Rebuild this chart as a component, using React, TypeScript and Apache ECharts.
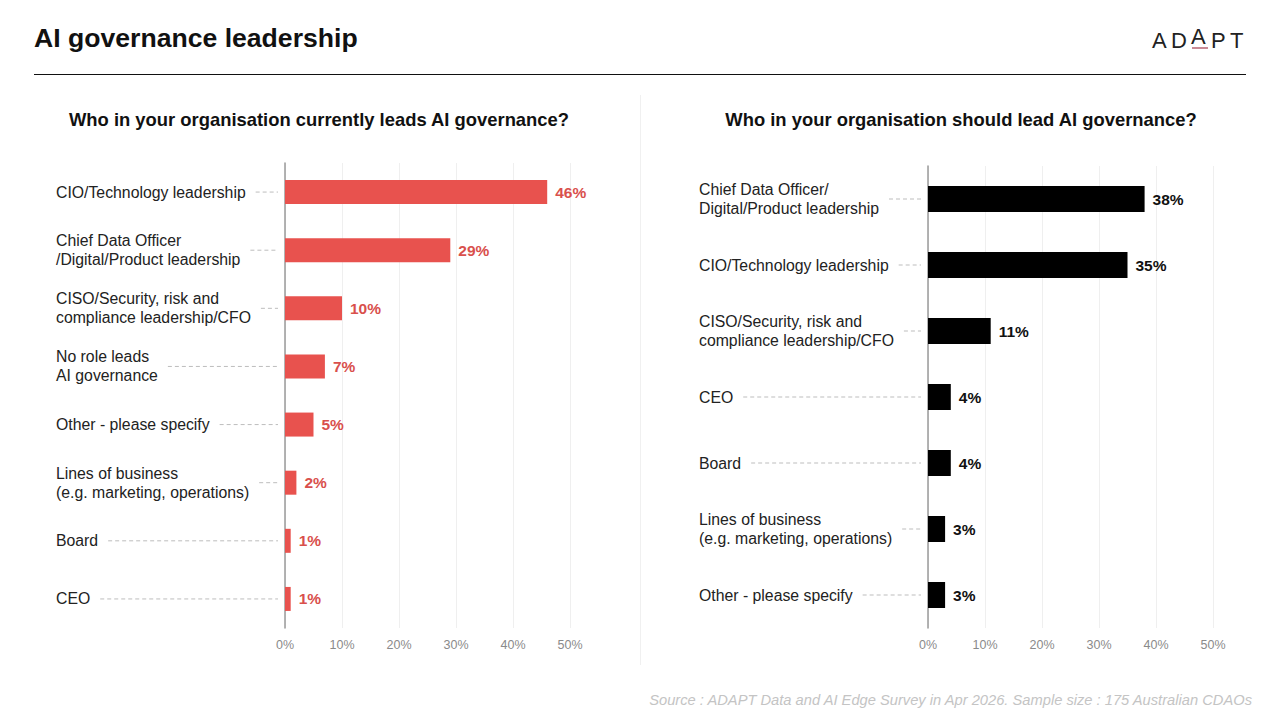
import { useEffect, useRef } from "react";
import * as echarts from "echarts";

const leftCategories = [
  "CIO/Technology leadership",
  "Chief Data Officer\n/Digital/Product leadership",
  "CISO/Security, risk and\ncompliance leadership/CFO",
  "No role leads\nAI governance",
  "Other - please specify",
  "Lines of business\n(e.g. marketing, operations)",
  "Board",
  "CEO",
];
const leftValues = [46, 29, 10, 7, 5, 2, 1, 1];

const rightCategories = [
  "Chief Data Officer/\nDigital/Product leadership",
  "CIO/Technology leadership",
  "CISO/Security, risk and\ncompliance leadership/CFO",
  "CEO",
  "Board",
  "Lines of business\n(e.g. marketing, operations)",
  "Other - please specify",
];
const rightValues = [38, 35, 11, 4, 4, 3, 3];

const xTicks = [0, 10, 20, 30, 40, 50];

const FONT = "'Liberation Sans', Arial, sans-serif";
const LABEL_MARGIN = 229;
const LABEL_SIZE = 15.8;

let measureCtx: CanvasRenderingContext2D | null = null;
function textWidth(text: string) {
  if (!measureCtx) measureCtx = document.createElement("canvas").getContext("2d");
  if (!measureCtx) return text.length * 7;
  measureCtx.font = `${LABEL_SIZE}px ${FONT}`;
  return Math.max(...text.split("\n").map((line) => measureCtx!.measureText(line).width));
}

function leaderSeries(cats: string[], axisIndex: number) {
  return {
    type: "custom",
    xAxisIndex: axisIndex,
    yAxisIndex: axisIndex,
    silent: true,
    z: 1,
    data: cats.map((_, i) => [0, i]),
    encode: { x: 0, y: 1 },
    renderItem: (_params: any, api: any) => {
      const idx = api.value(1);
      const p = api.coord([0, idx]);
      const x1 = p[0] - LABEL_MARGIN + textWidth(cats[idx]) + 10;
      const x2 = p[0] - 7;
      return {
        type: "line",
        shape: { x1, y1: p[1], x2, y2: p[1] },
        style: { stroke: "#bdbdbd", lineWidth: 1, lineDash: [4, 3] },
      };
    },
  };
}

function xAxis(gridIndex: number) {
  return {
    type: "value",
    gridIndex,
    min: xTicks[0],
    max: xTicks[xTicks.length - 1],
    interval: 10,
    axisLine: { show: false },
    axisTick: { show: false },
    splitLine: { lineStyle: { color: "#efefef", width: 1 } },
    axisLabel: { formatter: "{value}%", color: "#8a8a8a", fontSize: 12.5, fontFamily: FONT, margin: 10 },
  };
}

function yAxis(gridIndex: number, cats: string[]) {
  return {
    type: "category",
    gridIndex,
    inverse: true,
    data: cats,
    axisLine: { show: true, lineStyle: { color: "#9a9a9a", width: 1.5 } },
    axisTick: { show: false },
    axisLabel: {
      align: "left",
      margin: LABEL_MARGIN,
      color: "#222",
      fontSize: LABEL_SIZE,
      lineHeight: 19,
      fontFamily: FONT,
    },
  };
}

export default function App() {
  const ref = useRef<HTMLDivElement | null>(null);

  useEffect(() => {
    if (!ref.current) return;
    const chart = echarts.init(ref.current, undefined, { renderer: "svg" });
    const logoX = [1160, 1179, 1199, 1219, 1238];
    const logo = "ADAPT".split("").map((ch, i) => ({
      type: "text",
      left: logoX[i] - 8,
      top: i === 2 ? 25 : 29,
      style: { text: ch, fill: "#222", font: `22px ${FONT}` },
    }));
    chart.setOption({
      animation: false,
      backgroundColor: "#fff",
      grid: [
        { left: 285, width: 285, top: 163, height: 465 },
        { left: 928, width: 285, top: 166, height: 462 },
      ],
      xAxis: [xAxis(0), xAxis(1)],
      yAxis: [yAxis(0, leftCategories), yAxis(1, rightCategories)],
      series: [
        leaderSeries(leftCategories, 0),
        leaderSeries(rightCategories, 1),
        {
          type: "bar",
          xAxisIndex: 0,
          yAxisIndex: 0,
          data: leftValues,
          barWidth: 24,
          itemStyle: { color: "#e8524e" },
          label: {
            show: true,
            position: "right",
            distance: 8,
            formatter: "{c}%",
            color: "#d9504c",
            fontWeight: "bold",
            fontSize: 15.5,
            fontFamily: FONT,
          },
        },
        {
          type: "bar",
          xAxisIndex: 1,
          yAxisIndex: 1,
          data: rightValues,
          barWidth: 26,
          itemStyle: { color: "#000" },
          label: {
            show: true,
            position: "right",
            distance: 8,
            formatter: "{c}%",
            color: "#111",
            fontWeight: "bold",
            fontSize: 15.5,
            fontFamily: FONT,
          },
        },
      ],
      graphic: [
        {
          type: "text",
          left: 34,
          top: 24,
          style: { text: "AI governance leadership", fill: "#111", font: `bold 26.6px ${FONT}` },
        },
        {
          type: "line",
          shape: { x1: 34, y1: 74.5, x2: 1246, y2: 74.5 },
          style: { stroke: "#111", lineWidth: 1 },
        },
        ...logo,
        {
          type: "line",
          shape: { x1: 1192, y1: 48, x2: 1208, y2: 48 },
          style: { stroke: "#c98a95", lineWidth: 2 },
        },
        {
          type: "line",
          shape: { x1: 640.5, y1: 95, x2: 640.5, y2: 665 },
          style: { stroke: "#f0f0f0", lineWidth: 1 },
        },
        {
          type: "text",
          x: 319,
          y: 119,
          style: {
            text: "Who in your organisation currently leads AI governance?",
            fill: "#111",
            font: `bold 18.4px ${FONT}`,
            align: "center",
            verticalAlign: "middle",
          },
        },
        {
          type: "text",
          x: 961,
          y: 119,
          style: {
            text: "Who in your organisation should lead AI governance?",
            fill: "#111",
            font: `bold 18.4px ${FONT}`,
            align: "center",
            verticalAlign: "middle",
          },
        },
        {
          type: "text",
          x: 1252,
          y: 700,
          style: {
            text: "Source : ADAPT Data and AI Edge Survey in Apr 2026. Sample size : 175 Australian CDAOs",
            fill: "#c4c4c4",
            font: `italic 14.7px ${FONT}`,
            align: "right",
            verticalAlign: "middle",
          },
        },
      ],
    });
    return () => chart.dispose();
  }, []);

  return (
    <div
      ref={ref}
      style={{ position: "fixed", left: 0, top: 0, width: 1280, height: 720, background: "#fff" }}
    />
  );
}
